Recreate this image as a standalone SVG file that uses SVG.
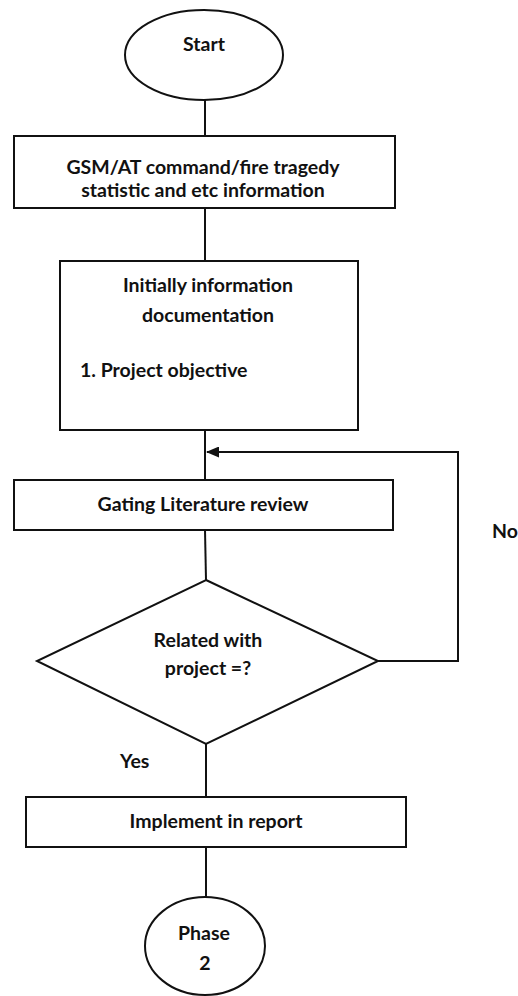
<svg xmlns="http://www.w3.org/2000/svg" width="518" height="996" viewBox="0 0 518 996">
<style>
.s{fill:#fff;stroke:#111;stroke-width:2}
.c{fill:none;stroke:#111;stroke-width:2}
text{font-family:Lato,"Open Sans","Liberation Sans",sans-serif;font-size:19.5px;fill:#111;font-weight:bold}
.m{text-anchor:middle}
</style>
<defs>
<marker id="ah" markerWidth="13" markerHeight="11" refX="12" refY="5.5" orient="auto" markerUnits="userSpaceOnUse">
<path d="M0,0 L13,5.5 L0,11 Z" fill="#111"/>
</marker>
</defs>
<rect width="518" height="996" fill="#fff"/>
<g id="connectors">
<line class="c" x1="205" y1="100" x2="205" y2="136"/>
<line class="c" x1="205" y1="208" x2="205" y2="261"/>
<line class="c" x1="205" y1="430" x2="205" y2="480"/>
<line class="c" x1="205" y1="530" x2="206" y2="580"/>
<polyline class="c" points="378,661 458,661 458,452 207,452" marker-end="url(#ah)"/>
<line class="c" x1="206" y1="744" x2="206" y2="797"/>
<line class="c" x1="206" y1="847" x2="206" y2="897"/>
</g>
<g id="start">
<ellipse class="s" cx="204" cy="55" rx="79" ry="45"/>
<text class="m" x="204" y="51">Start</text>
</g>
<g id="gsm">
<rect class="s" x="14" y="136" width="381" height="72"/>
<text class="m" x="203" y="174">GSM/AT command/fire tragedy</text>
<text class="m" x="203" y="197">statistic and etc information</text>
</g>
<g id="doc">
<rect class="s" x="60" y="261" width="298" height="169"/>
<text class="m" x="208" y="292">Initially information</text>
<text class="m" x="208" y="322">documentation</text>
<text x="80" y="377">1. Project objective</text>
</g>
<g id="gating">
<rect class="s" x="14" y="480" width="379" height="50"/>
<text class="m" x="203" y="511">Gating Literature review</text>
</g>
<g id="decision">
<polygon class="s" points="206,580 378,661 206,744 37,661"/>
<text class="m" x="208" y="647">Related with</text>
<text class="m" x="208" y="675">project =?</text>
</g>
<g id="implement">
<rect class="s" x="26" y="797" width="380" height="50"/>
<text class="m" x="216" y="828">Implement in report</text>
</g>
<g id="phase2">
<ellipse class="s" cx="205" cy="946" rx="60" ry="49"/>
<text class="m" x="204" y="940">Phase</text>
<text class="m" x="205" y="970">2</text>
</g>
<g id="labels">
<text x="492" y="538">No</text>
<text x="120" y="768">Yes</text>
</g>
</svg>
